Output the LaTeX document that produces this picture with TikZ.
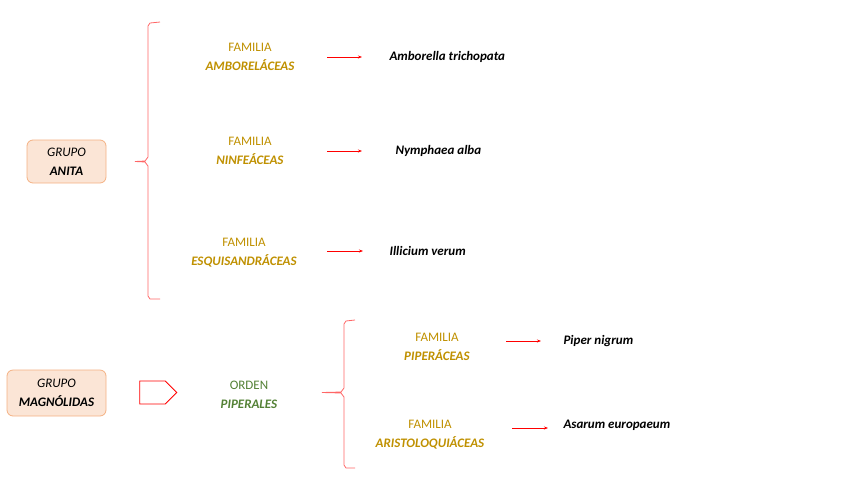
\documentclass[tikz,border=0pt]{standalone}
\usepackage{fontspec}
\setmainfont{Carlito}
\usetikzlibrary{arrows.meta,shapes.arrows}
\definecolor{gold}{HTML}{BF9000}
\definecolor{grn}{HTML}{538135}
\definecolor{peach}{HTML}{FBE5D6}
\definecolor{peachb}{HTML}{F4B183}
\tikzset{
 fam/.style={align=center,font=\fontsize{13}{19}\selectfont,text=gold},
 sp/.style={anchor=west,font=\fontsize{13}{16}\selectfont\bfseries\itshape},
 grp/.style={draw=peachb,fill=peach,rounded corners=6pt,align=center,font=\fontsize{13}{19}\selectfont,line width=0.8pt},
 arr/.style={red,-{Stealth[length=4pt,width=3pt]},line width=0.6pt},
 brace/.style={draw=red!60,line width=0.8pt}
}
\begin{document}
\begin{tikzpicture}[x=1pt,y=-1pt]
\useasboundingbox (0,0) rectangle (848,477);
\node[grp,minimum width=79,minimum height=43] (anita) at (66.5,161.5) {\textit{GRUPO}\\\textbf{\textit{ANITA}}};
\node[grp,minimum width=99,minimum height=46] (magn) at (56.5,393) {\textit{GRUPO}\\\textbf{\textit{MAGNÓLIDAS}}};
% braces
\draw[brace] (160,22) -- (150,23) -- (148,26) -- (148,157) -- (145,161) -- (135,161.5) -- (145,162) -- (148,166) -- (148,296) -- (150,299) -- (160,299);
\draw[brace] (355,320) -- (346,321) -- (344,324) -- (344,388) -- (341,392) -- (322,392.5) -- (341,393) -- (344,397) -- (344,465) -- (346,468) -- (355,468);
% families
\node[fam] (f1) at (250,56.5) {FAMILIA\\\textbf{\textit{AMBORELÁCEAS}}};
\node[fam] (f2) at (250,150.5) {FAMILIA\\\textbf{\textit{NINFEÁCEAS}}};
\node[fam] (f3) at (244,252.5) {FAMILIA\\\textbf{\textit{ESQUISANDRÁCEAS}}};
\node[fam] (f4) at (437,346.5) {FAMILIA\\\textbf{\textit{PIPERÁCEAS}}};
\node[fam] (f5) at (430,434.5) {FAMILIA\\\textbf{\textit{ARISTOLOQUIÁCEAS}}};
\node[fam,text=grn] (ord) at (249,394.5) {ORDEN\\\textbf{\textit{PIPERALES}}};
% species
\node[sp] (s1) at (386,57) {Amborella trichopata};
\node[sp] (s2) at (392,151) {Nymphaea alba};
\node[sp] (s3) at (386,251) {Illicium verum};
\node[sp] (s4) at (560,341) {Piper nigrum};
\node[sp] (s5) at (560,425) {Asarum europaeum};
\coordinate (a1) at (327,57); \coordinate (b1) at (362,57);
\coordinate (a2) at (327,151); \coordinate (b2) at (362,151);
\coordinate (a3) at (327,251); \coordinate (b3) at (363,251);
\coordinate (a4) at (506,341); \coordinate (b4) at (541,341);
\coordinate (a5) at (512,428); \coordinate (b5) at (548,428);
\foreach \i in {1,...,5} \draw[arr] (a\i) -- (b\i);
\node[single arrow,draw=red,fill=white,line width=0.8pt,minimum height=37,minimum width=23,single arrow head extend=0pt,inner sep=0pt,shape border uses incircle=false] (ha) at (152.5,392.5) {};
\end{tikzpicture}
\end{document}
